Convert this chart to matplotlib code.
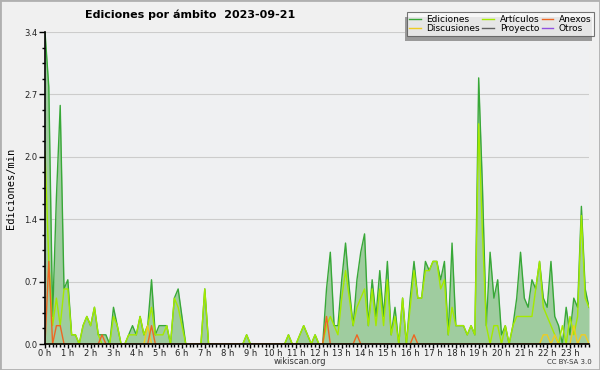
import matplotlib
matplotlib.use("Agg")
import matplotlib.pyplot as plt
from matplotlib.patches import Rectangle
from matplotlib.ticker import MultipleLocator, FixedLocator

# una muestra cada 10 minutos (144 por dia), ediciones por minuto
horas = list(range(24))
etiquetas_horas = [f"{h} h" for h in horas]
yticks = [0.0, 0.68, 1.36, 2.04, 2.72, 3.4]
ytick_labels = ["0.0", "0.7", "1.4", "2.0", "2.7", "3.4"]

ediciones = [
    3.4, 2.8, 0.3, 1.6, 2.6, 0.6, 0.7, 0.1, 0.1, 0.0, 0.2, 0.3,
    0.2, 0.4, 0.1, 0.1, 0.1, 0.0, 0.4, 0.2, 0.0, 0.0, 0.1, 0.2,
    0.1, 0.3, 0.1, 0.2, 0.7, 0.1, 0.2, 0.2, 0.2, 0.0, 0.5, 0.6,
    0.3, 0.0, 0.0, 0.0, 0.0, 0.0, 0.6, 0.0, 0.0, 0.0, 0.0, 0.0,
    0.0, 0.0, 0.0, 0.0, 0.0, 0.1, 0.0, 0.0, 0.0, 0.0, 0.0, 0.0,
    0.0, 0.0, 0.0, 0.0, 0.1, 0.0, 0.0, 0.1, 0.2, 0.1, 0.0, 0.1,
    0.0, 0.0, 0.6, 1.0, 0.2, 0.2, 0.7, 1.1, 0.6, 0.2, 0.7, 1.0,
    1.2, 0.2, 0.7, 0.3, 0.8, 0.3, 0.9, 0.1, 0.4, 0.0, 0.5, 0.0,
    0.5, 0.9, 0.5, 0.5, 0.9, 0.8, 0.9, 0.9, 0.7, 0.9, 0.1, 1.1,
    0.2, 0.2, 0.2, 0.1, 0.2, 0.1, 2.9, 1.7, 0.2, 1.0, 0.5, 0.7,
    0.1, 0.2, 0.0, 0.2, 0.5, 1.0, 0.5, 0.4, 0.7, 0.6, 0.9, 0.5,
    0.4, 0.9, 0.3, 0.2, 0.0, 0.4, 0.1, 0.5, 0.4, 1.5, 0.6, 0.4,
]
articulos = [
    2.1, 0.9, 0.2, 0.5, 0.2, 0.6, 0.6, 0.1, 0.1, 0.0, 0.2, 0.3,
    0.2, 0.4, 0.1, 0.0, 0.0, 0.0, 0.3, 0.2, 0.0, 0.0, 0.1, 0.1,
    0.1, 0.3, 0.1, 0.2, 0.4, 0.1, 0.1, 0.1, 0.2, 0.0, 0.5, 0.4,
    0.2, 0.0, 0.0, 0.0, 0.0, 0.0, 0.6, 0.0, 0.0, 0.0, 0.0, 0.0,
    0.0, 0.0, 0.0, 0.0, 0.0, 0.1, 0.0, 0.0, 0.0, 0.0, 0.0, 0.0,
    0.0, 0.0, 0.0, 0.0, 0.1, 0.0, 0.0, 0.1, 0.2, 0.1, 0.0, 0.1,
    0.0, 0.0, 0.2, 0.3, 0.2, 0.1, 0.5, 0.8, 0.5, 0.2, 0.4, 0.5,
    0.6, 0.2, 0.6, 0.2, 0.6, 0.2, 0.7, 0.1, 0.3, 0.0, 0.5, 0.0,
    0.4, 0.8, 0.5, 0.5, 0.8, 0.8, 0.9, 0.9, 0.6, 0.7, 0.1, 0.4,
    0.2, 0.2, 0.2, 0.1, 0.2, 0.1, 2.4, 1.2, 0.2, 0.0, 0.2, 0.2,
    0.0, 0.2, 0.0, 0.2, 0.3, 0.3, 0.3, 0.3, 0.3, 0.6, 0.9, 0.4,
    0.3, 0.2, 0.1, 0.0, 0.2, 0.0, 0.3, 0.1, 0.3, 1.4, 0.5, 0.4,
]
anexos = [
    0.0, 0.9, 0.0, 0.2, 0.2, 0.0, 0.0, 0.0, 0.0, 0.0, 0.0, 0.0,
    0.0, 0.0, 0.0, 0.1, 0.0, 0.0, 0.0, 0.0, 0.0, 0.0, 0.0, 0.0,
    0.0, 0.0, 0.0, 0.0, 0.2, 0.0, 0.0, 0.0, 0.0, 0.0, 0.0, 0.0,
    0.0, 0.0, 0.0, 0.0, 0.0, 0.0, 0.0, 0.0, 0.0, 0.0, 0.0, 0.0,
    0.0, 0.0, 0.0, 0.0, 0.0, 0.0, 0.0, 0.0, 0.0, 0.0, 0.0, 0.0,
    0.0, 0.0, 0.0, 0.0, 0.0, 0.0, 0.0, 0.0, 0.0, 0.0, 0.0, 0.0,
    0.0, 0.0, 0.3, 0.0, 0.0, 0.0, 0.0, 0.0, 0.0, 0.0, 0.1, 0.0,
    0.0, 0.0, 0.0, 0.0, 0.0, 0.0, 0.0, 0.0, 0.0, 0.0, 0.0, 0.0,
    0.0, 0.1, 0.0, 0.0, 0.0, 0.0, 0.0, 0.0, 0.0, 0.0, 0.0, 0.0,
    0.0, 0.0, 0.0, 0.0, 0.0, 0.0, 0.0, 0.0, 0.0, 0.0, 0.0, 0.0,
    0.0, 0.0, 0.0, 0.0, 0.0, 0.0, 0.0, 0.0, 0.0, 0.0, 0.0, 0.0,
    0.0, 0.0, 0.0, 0.0, 0.0, 0.0, 0.0, 0.0, 0.0, 0.0, 0.0, 0.0,
]
discusiones = [
    0.0, 0.0, 0.0, 0.0, 0.0, 0.0, 0.0, 0.0, 0.0, 0.0, 0.0, 0.0,
    0.0, 0.0, 0.0, 0.0, 0.0, 0.0, 0.0, 0.0, 0.0, 0.0, 0.0, 0.0,
    0.0, 0.0, 0.0, 0.2, 0.0, 0.0, 0.0, 0.0, 0.0, 0.0, 0.0, 0.0,
    0.0, 0.0, 0.0, 0.0, 0.0, 0.0, 0.0, 0.0, 0.0, 0.0, 0.0, 0.0,
    0.0, 0.0, 0.0, 0.0, 0.0, 0.0, 0.0, 0.0, 0.0, 0.0, 0.0, 0.0,
    0.0, 0.0, 0.0, 0.0, 0.0, 0.0, 0.0, 0.0, 0.0, 0.0, 0.0, 0.0,
    0.0, 0.0, 0.0, 0.0, 0.0, 0.0, 0.0, 0.0, 0.0, 0.0, 0.0, 0.0,
    0.0, 0.0, 0.0, 0.0, 0.0, 0.0, 0.0, 0.0, 0.0, 0.0, 0.0, 0.0,
    0.0, 0.0, 0.0, 0.0, 0.0, 0.0, 0.0, 0.0, 0.0, 0.0, 0.0, 0.0,
    0.0, 0.0, 0.0, 0.0, 0.0, 0.0, 0.0, 0.0, 0.0, 0.0, 0.0, 0.0,
    0.0, 0.0, 0.0, 0.0, 0.0, 0.0, 0.0, 0.0, 0.0, 0.0, 0.0, 0.1,
    0.1, 0.0, 0.1, 0.0, 0.0, 0.0, 0.0, 0.2, 0.0, 0.1, 0.1, 0.0,
]
proyecto = [0.0] * 144
otros = [0.0] * 144

x = [i / 6 for i in range(len(ediciones))]

fig = plt.figure(figsize=(6, 3.7), dpi=100, facecolor="#f0f0f0")
ax = fig.add_axes([45 / 600, 1 - 344 / 370, 544 / 600, 312 / 370])
ax.set_facecolor("#eff0f2")

ax.fill_between(x, ediciones, 0, color="#9fcc9f", lw=0, zorder=2)
l_ed, = ax.plot(x, ediciones, color="#38a838", lw=1.0, zorder=3, label="Ediciones")
l_pr, = ax.plot(x, proyecto, color="#606060", lw=1.0, zorder=3, label="Proyecto")
l_ot, = ax.plot(x, otros, color="#9050e0", lw=1.0, zorder=3, label="Otros")
l_ar, = ax.plot(x, articulos, color="#a4ea00", lw=1.0, zorder=4, label="Artículos")
l_di, = ax.plot(x, discusiones, color="#eecc22", lw=1.0, zorder=4, label="Discusiones")
l_an, = ax.plot(x, anexos, color="#ee6622", lw=1.0, zorder=4, label="Anexos")

ax.set_xlim(0, 143 / 6)
ax.set_ylim(0, 3.4)
ax.xaxis.set_major_locator(FixedLocator(horas))
ax.set_xticklabels(etiquetas_horas)
ax.xaxis.set_minor_locator(MultipleLocator(1 / 6))
ax.set_yticks(yticks)
ax.set_yticklabels(ytick_labels)
ax.yaxis.set_minor_locator(MultipleLocator(0.17))
ax.tick_params(axis="y", which="major", length=4, width=1, labelsize=6, pad=1.5,
               labelcolor="#222222")
ax.tick_params(axis="x", which="major", length=3, width=1, labelsize=6, pad=0.5,
               labelcolor="#222222")
ax.tick_params(axis="both", which="minor", length=2.5, width=1)
ax.grid(axis="y", color="#cccccc", lw=0.8, zorder=1)
for s in ["top", "right"]:
    ax.spines[s].set_visible(False)
for s in ["left", "bottom"]:
    ax.spines[s].set_linewidth(1.2)
    ax.spines[s].set_zorder(6)

ax.set_ylabel("Ediciones/min", fontsize=7.5, family="DejaVu Sans Mono", labelpad=6)

fig.text(85 / 600, 1 - 15 / 370, "Ediciones por ámbito  2023-09-21", fontsize=8,
         fontweight="bold", ha="left", va="center")
fig.text(300 / 600, 1 - 362 / 370, "wikiscan.org", fontsize=6, color="#333333",
         ha="center", va="center")
fig.text(569 / 600, 1 - 362 / 370, "CC BY-SA 3.0", fontsize=5, color="#333333",
         ha="center", va="center")

leg = fig.legend([l_ed, l_di, l_ar, l_pr, l_an, l_ot],
                 ["Ediciones", "Discusiones", "Artículos", "Proyecto", "Anexos", "Otros"],
                 ncol=3, loc="upper right", bbox_to_anchor=(594 / 600, 1 - 12 / 370),
                 fontsize=6.5, frameon=True, fancybox=False, borderpad=0.3,
                 labelspacing=0.05, handlelength=1.3, handletextpad=0.6,
                 columnspacing=0.25, borderaxespad=0)
leg.get_frame().set_facecolor("#fafafa")
leg.get_frame().set_edgecolor("#555555")
leg.get_frame().set_linewidth(0.8)
leg.set_zorder(9)

# sombra de la leyenda, desplazada abajo a la izquierda
fig.canvas.draw()
bb = leg.get_window_extent().transformed(fig.transFigure.inverted())
fig.patches.append(Rectangle((bb.x0 - 2 / 600, bb.y0 - 5 / 370), bb.width, bb.height,
                             transform=fig.transFigure, facecolor="#9a9a9a",
                             edgecolor="none", zorder=8))

# marco de la imagen
fig.patches.append(Rectangle((0, 0), 1, 1, transform=fig.transFigure, fill=False,
                             edgecolor="#b0b0b0", lw=2, zorder=10))

fig.savefig("out.png", dpi=100, facecolor=fig.get_facecolor())
